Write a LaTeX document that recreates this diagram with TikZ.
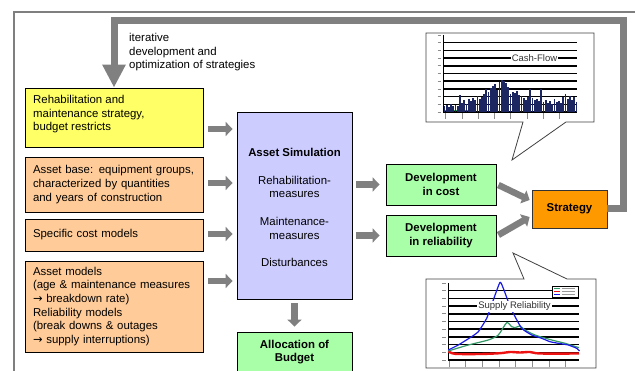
\documentclass[tikz,border=0pt]{standalone}
\usepackage{fontspec}
\setmainfont{Liberation Sans}
\newfontfamily\arrowfont{DejaVu Sans}
\usetikzlibrary{arrows.meta}

\definecolor{framegray}{HTML}{7F7F7F}
\definecolor{arrowgray}{HTML}{808080}
\definecolor{yellowbox}{HTML}{FFFF66}
\definecolor{peach}{HTML}{FFCC99}
\definecolor{lavender}{HTML}{CCCCFF}
\definecolor{mint}{HTML}{A8FFA8}
\definecolor{amber}{HTML}{FF9900}
\definecolor{barblue}{HTML}{1C2660}
\definecolor{curveblue}{HTML}{1A1AE6}
\definecolor{curvegreen}{HTML}{339966}
\definecolor{curvered}{HTML}{EE1111}

\newcommand{\rarr}{{\arrowfont\fontsize{11.4}{12}\selectfont →}}

\tikzset{
  box/.style={draw=black, line width=0.8pt, inner xsep=8pt, inner ysep=0pt,
    font=\fontsize{11.4}{13.7}\selectfont},
  leftbox/.style={box, text width=162pt, align=left},
  boldbox/.style={box, align=center,
    font=\fontsize{11.4}{13.2}\selectfont\bfseries},
  plain/.style={inner sep=0pt, align=left, font=\fontsize{11.4}{13.7}\selectfont},
  blockarrow/.style={draw=arrowgray, line width=6.5pt,
    -{Triangle[width=14pt,length=7pt]}},
  feedback/.style={draw=arrowgray, line width=7pt, line join=miter,
    -{Triangle[width=22pt,length=23pt]}},
  callout/.style={draw=black!75, line width=0.8pt, fill=white},
  gridline/.style={draw=black, line width=1.5pt},
  ticktext/.style={draw=black!45, line width=0.7pt},
  chartlabel/.style={fill=white, inner xsep=1pt, inner ysep=1pt,
    font=\fontsize{9.5}{11}\selectfont, text=black!80},
}

\begin{document}
\begin{tikzpicture}[x=1pt, y=-1pt]
\useasboundingbox (0,0) rectangle (635,371);
\clip (0,0) rectangle (635,371);

% outer frame
\draw[framegray, line width=1.4pt] (14,380) |- (640,12);

% input boxes
\node[leftbox, fill=yellowbox, minimum height=59pt] (rehab) at (114,117.5) {};
\node[plain, anchor=north west] (rehabtxt) at (33,95)
  {Rehabilitation and\\maintenance strategy,\\budget restricts};
\node[leftbox, fill=peach, minimum height=55pt] (base) at (114,184.5)
  {Asset base: equipment groups,\\characterized by quantities\\and years of construction};
\node[leftbox, fill=peach, minimum height=32pt] (costmod) at (114,235)
  {Specific cost models};
\node[leftbox, fill=peach, minimum height=91pt] (models) at (114,306.5)
  {Asset models\\(age \& maintenance measures\\\rarr\ breakdown rate)\\Reliability models\\(break downs \& outages\\\rarr\ supply interruptions)};

% simulation core
\node[box, fill=lavender, minimum width=115pt, minimum height=187pt, align=center]
  (sim) at (294.5,205.5)
  {\rule{0pt}{12pt}\textbf{Asset Simulation}\\[14.3pt]Rehabilitation-\\measures\\[14.3pt]Maintenance-\\measures\\[13.3pt]Disturbances};
\node[boldbox, fill=mint, minimum width=115pt, minimum height=40pt]
  (alloc) at (294.5,352) {Allocation of\\Budget};

% results
\node[boldbox, fill=mint, minimum width=110pt, minimum height=41pt]
  (devcost) at (441,184.5) {Development\\in cost};
\node[boldbox, fill=mint, minimum width=110pt, minimum height=41pt]
  (devrel) at (441,235.5) {Development\\in reliability};
\node[boldbox, fill=amber, draw=black!80, minimum width=75pt, minimum height=38pt]
  (strat) at (569.5,209) {Strategy};

% feedback loop
\coordinate (fbcorner) at (623,21);
\draw[feedback] (strat.east) -| (fbcorner) -| (rehab.north);
\node[plain, anchor=north west] (iterlbl) at (129,33)
  {iterative\\development and\\optimization of strategies};

% inputs into the simulation
\coordinate (in1) at ([shift={(0,11.5)}]rehab.east);
\coordinate (in4) at ([shift={(0,-25.5)}]models.east);
\draw[blockarrow, shorten <=5pt, shorten >=4pt] (in1) -- (in1 -| sim.west);
\draw[blockarrow, shorten <=5pt, shorten >=4pt] ([shift={(0,-1.5)}]base.east) -- ([shift={(0,-1.5)}]base.east -| sim.west);
\draw[blockarrow, shorten <=5pt, shorten >=4pt] ([shift={(0,-1)}]costmod.east) -- ([shift={(0,-1)}]costmod.east -| sim.west);
\draw[blockarrow, shorten <=5pt, shorten >=4pt] (in4) -- (in4 -| sim.west);

% simulation outputs
\draw[blockarrow, shorten <=4pt, shorten >=6pt] (sim.east |- devcost.west) -- (devcost.west);
\draw[blockarrow, shorten <=4pt, shorten >=6pt] (sim.east |- devrel.west) -- (devrel.west);
\draw[blockarrow, shorten <=4pt, shorten >=5pt] (sim.south) -- (alloc.north);
\draw[blockarrow] ([shift={(2,0.5)}]devcost.east) -- ([shift={(-2,-9)}]strat.west);
\draw[blockarrow] ([shift={(2,-0.5)}]devrel.east) -- ([shift={(-2,8)}]strat.west);

% ---- cash-flow callout ----
\draw[callout] (426,33) -- (594,33) -- (594,122) -- (566,122) -- (512,160)
  -- (523,122) -- (426,122) -- cycle;
\foreach \k in {1,...,10}
  \draw[gridline] (443,{35+\k*7.7}) -- (577,{35+\k*7.7});
\draw[black, line width=0.8pt] (443,35) -- (443,112);
\foreach \k in {0,...,10}
  \draw[ticktext] (437.5,{112-\k*7.7}) -- (441,{112-\k*7.7});
\foreach \x in {445.7,461.9,478.2,494.5,510.8,527.1,543.4,559.7}
  \draw[ticktext] (\x,113.5) -- (\x,119.5);
\draw[curvegreen, line width=0.8pt] (444,110) -- (470,110);
\foreach \h [count=\i from 0] in {6,7,5,8,6,7,6,17,9,12,8,13,11,14,12,16,13,15,
    18,23,20,24,26,28,22,30,32,31,29,25,18,20,19,21,17,16,14,12,15,23,
    14,12,13,11,23,10,12,9,11,8,13,10,11,9,15,18,13,16,12,15,10}
  \fill[barblue] ({443.6+\i*2.2},112) rectangle ++(1.7,-\h);
\node[chartlabel] (cflbl) at (534.5,58) {Cash-Flow};

% ---- supply reliability callout ----
\draw[callout] (426,279) -- (524,279) -- (513,253) -- (567,279) -- (596,279)
  -- (596,368) -- (426,368) -- cycle;
\foreach \k in {1,...,10}
  \draw[gridline] (448,{283+\k*7.7}) -- (579,{283+\k*7.7});
\draw[black, line width=0.8pt] (448,283) -- (448,360);
\foreach \k in {0,...,10}
  \draw[ticktext] (442,{360-\k*7.7}) -- (445.5,{360-\k*7.7});
\foreach \x in {449,465.7,482.3,499,515.7,532.3,549,565.7}
  \draw[ticktext] (\x,361.5) -- (\x,367);
\begin{scope}
  \clip (448,282) rectangle (580,362);
  \draw[curvered, line width=2.4pt, line join=round]
    plot[smooth, tension=0.5] coordinates {(448,351) (455,353.8) (480,354) (500,353.2)
      (510,352) (520,352.5) (530,352) (540,353.5) (579,353.5)};
  \draw[curvegreen, line width=1.2pt, line join=round]
    plot[smooth, tension=0.4] coordinates {(448.3,351) (468.3,345) (488.3,340) (498.3,335)
      (506.7,322.7) (511.7,326.7) (515,327.7) (520,326) (525,330) (535,335)
      (551.7,340) (565,343.3) (579,347.7)};
  \draw[curveblue, line width=1.2pt, line join=round]
    plot[smooth, tension=0.3] coordinates {(448.3,350) (458.3,345) (470,337.7) (478.3,331.7)
      (486.7,318.3) (493.3,300) (500,282.3) (503.3,288.3) (508.3,301.7)
      (513.3,313.3) (521.7,328.3) (531.7,335) (541.7,338.3) (550,341.7)
      (558.3,343.3) (568.3,345) (576.7,348.3) (579.5,351)};
\end{scope}
% legend
\draw[black, line width=0.6pt, fill=white] (552,286) rectangle (578,297);
\draw[curvegreen, line width=0.9pt] (554,288.6) -- (560,288.6);
\draw[curvered, line width=0.9pt] (554,291.5) -- (560,291.5);
\draw[curveblue, line width=0.9pt] (554,294.4) -- (560,294.4);
\foreach \y in {288.6,291.5,294.4}
  \draw[black!40, line width=0.6pt] (561.5,\y) -- (575,\y);
\node[chartlabel] (srlbl) at (514.5,306.5) {Supply Reliability};

\end{tikzpicture}
\end{document}
